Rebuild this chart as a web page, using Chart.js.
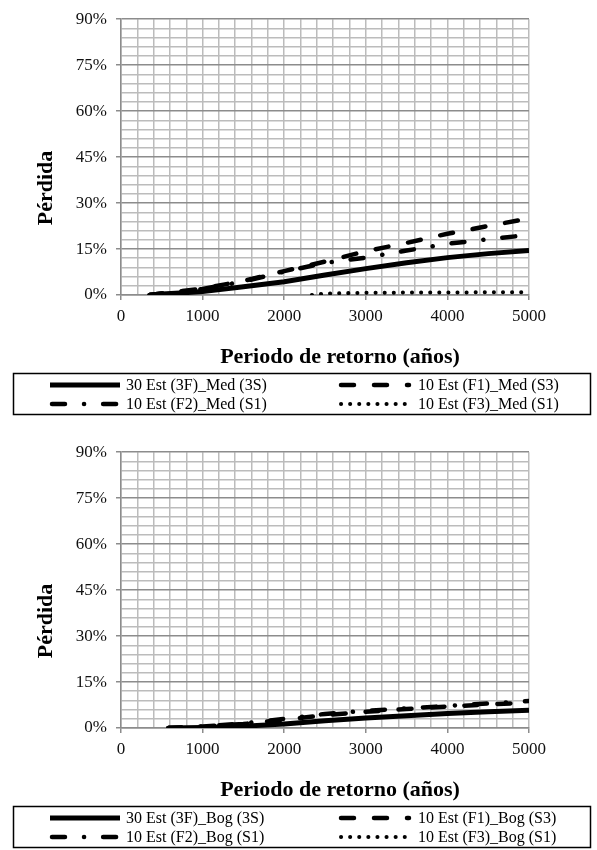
<!DOCTYPE html>
<html>
<head>
<meta charset="utf-8">
<script src="https://cdn.jsdelivr.net/npm/chart.js@4.4.1/dist/chart.umd.min.js"></script>
<style>
  html, body { margin: 0; padding: 0; background: #fff; }
  .wrap { position: absolute; left: 0; width: 597px; }
  #w1 { top: 0; height: 433px; }
  #w2 { top: 433px; height: 417px; }
</style>
</head>
<body>
<div class="wrap" id="w1"><canvas id="chartMed"></canvas></div>
<div class="wrap" id="w2"><canvas id="chartBog"></canvas></div>
<script>
// Medellín
const medPeriods = [350, 500, 1000, 1500, 2000, 2500, 3000, 3500, 4000, 4500, 5000];
const med30 = [0, 0.3, 1.1, 2.7, 4.3, 6.5, 8.6, 10.5, 12.2, 13.5, 14.5];
const medF1 = [0, 0.5, 2.1, 4.6, 7.8, 10.9, 14.3, 17.0, 20.0, 22.5, 25.0];
const medF2 = [0, 0.5, 2.0, 4.4, 7.6, 10.5, 12.2, 14.5, 16.7, 18.2, 19.6];
const medF3Periods = [2340, 2500, 3000, 3500, 4000, 4500, 5000];
const medF3 = [0, 0.5, 0.7, 0.8, 0.8, 0.9, 0.9];
const medLabels = ['30 Est (3F)_Med (3S)', '10 Est (F1)_Med (S3)', '10 Est (F2)_Med (S1)', '10 Est (F3)_Med (S1)'];

// Bogotá
const bogPeriods = [580, 1000, 1500, 2000, 2500, 3000, 3500, 4000, 4500, 5000];
const bog30 = [0, 0.2, 0.6, 1.3, 2.4, 3.3, 4.0, 4.7, 5.3, 5.8];
const bogF1 = [0, 0.5, 1.3, 2.7, 4.2, 5.3, 6.2, 7.0, 7.7, 8.3];
const bogF2 = [0, 0.5, 1.5, 3.0, 4.6, 5.6, 6.4, 7.2, 8.0, 8.8];
const bogF3Periods = [];
const bogF3 = [];
const bogLabels = ['30 Est (3F)_Bog (3S)', '10 Est (F1)_Bog (S3)', '10 Est (F2)_Bog (S1)', '10 Est (F3)_Bog (S1)'];

const yTicks = [0, 15, 30, 45, 60, 75, 90];
const xTicks = [0, 1000, 2000, 3000, 4000, 5000];

const serif = "'Liberation Serif', 'Times New Roman', serif";

function pts(xs, ys) {
  return xs.map((x, i) => ({ x: x, y: ys[i] }));
}

// titles + boxed legend drawn on the canvas
const extras = {
  id: 'extras',
  afterDraw(chart) {
    const ctx = chart.ctx;
    ctx.save();
    ctx.fillStyle = '#000';
    ctx.font = 'bold 22px ' + serif;
    ctx.textAlign = 'center';
    ctx.textBaseline = 'middle';
    ctx.fillText('Periodo de retorno (años)', 340, 357);
    ctx.translate(46, 188);
    ctx.rotate(-Math.PI / 2);
    ctx.fillText('Pérdida', 0, 0);
    ctx.restore();

    ctx.save();
    ctx.strokeStyle = '#000';
    ctx.lineWidth = 1.5;
    ctx.strokeRect(13.5, 373.5, 577, 41);
    ctx.font = '16px ' + serif;
    ctx.textBaseline = 'middle';
    ctx.textAlign = 'left';
    chart.data.datasets.forEach((ds, i) => {
      const col = i % 2, row = Math.floor(i / 2);
      const x0 = col === 0 ? 50 : 339;
      const y = row === 0 ? 385 : 404;
      ctx.beginPath();
      ctx.setLineDash(ds.borderDash || []);
      ctx.lineCap = ds.borderCapStyle || 'butt';
      ctx.lineWidth = ds.borderWidth;
      ctx.strokeStyle = '#000';
      const x1 = x0 + 70;
      ctx.moveTo(x0 + (ds.borderCapStyle === 'round' ? 2 : 0), y);
      ctx.lineTo(x1, y);
      ctx.stroke();
      ctx.setLineDash([]);
      ctx.fillStyle = '#000';
      ctx.fillText(ds.label, col === 0 ? 126 : 418, y + 1);
    });
    ctx.restore();
  }
};

function makeChart(id, height, periods, s30, sF1, sF2, f3Periods, sF3, labels) {
  const data = {
    datasets: [
      { label: labels[0], data: pts(periods, s30), borderColor: '#000', borderWidth: 5, borderCapStyle: 'butt' },
      { label: labels[1], data: pts(periods, sF1), borderColor: '#000', borderWidth: 4.5, borderDash: [13, 20], borderCapStyle: 'round' },
      { label: labels[2], data: pts(periods, sF2), borderColor: '#000', borderWidth: 4.5, borderDash: [13, 19, 0.1, 19], borderCapStyle: 'round' },
      { label: labels[3], data: pts(f3Periods, sF3), borderColor: '#000', borderWidth: 4, borderDash: [0.1, 9], borderCapStyle: 'round' }
    ]
  };

  const config = {
    type: 'line',
    data: data,
    options: {
      responsive: false,
      animation: false,
      devicePixelRatio: 1,
      layout: { padding: { top: 16, right: 68, left: 0, bottom: 0 } },
      elements: { point: { radius: 0 }, line: { tension: 0, fill: false } },
      plugins: { legend: { display: false }, tooltip: { enabled: false } },
      scales: {
        x: {
          type: 'linear',
          min: 0,
          max: 5000,
          afterFit: (s) => { s.height = height - 295; },
          ticks: {
            stepSize: 200,
            autoSkip: false,
            maxRotation: 0,
            color: '#111',
            font: { family: serif, size: 17 },
            padding: 6,
            callback: (v) => xTicks.includes(v) ? String(v) : ''
          },
          grid: {
            color: '#bcbcbc',
            lineWidth: 1.5,
            tickLength: 5,
            tickColor: (c) => xTicks.includes(c.tick.value) ? '#8c8c8c' : 'rgba(0,0,0,0)'
          },
          border: { color: '#8c8c8c', width: 1.5 }
        },
        y: {
          min: 0,
          max: 90,
          afterFit: (s) => { s.width = 121; },
          ticks: {
            stepSize: 3,
            autoSkip: false,
            color: '#111',
            font: { family: serif, size: 17 },
            padding: 9,
            callback: (v) => yTicks.includes(v) ? v + '%' : ''
          },
          grid: {
            color: (c) => yTicks.includes(c.tick.value) ? '#8c8c8c' : '#bcbcbc',
            lineWidth: 1.5,
            tickLength: 5,
            tickColor: (c) => yTicks.includes(c.tick.value) ? '#8c8c8c' : 'rgba(0,0,0,0)'
          },
          border: { color: '#8c8c8c', width: 1.5 }
        }
      }
    },
    plugins: [extras]
  };

  const canvasChart = document.getElementById(id);
  canvasChart.width = 597;
  canvasChart.height = height;
  return new Chart(canvasChart, config);
}

makeChart('chartMed', 433, medPeriods, med30, medF1, medF2, medF3Periods, medF3, medLabels);
makeChart('chartBog', 417, bogPeriods, bog30, bogF1, bogF2, bogF3Periods, bogF3, bogLabels);
</script>
</body>
</html>
